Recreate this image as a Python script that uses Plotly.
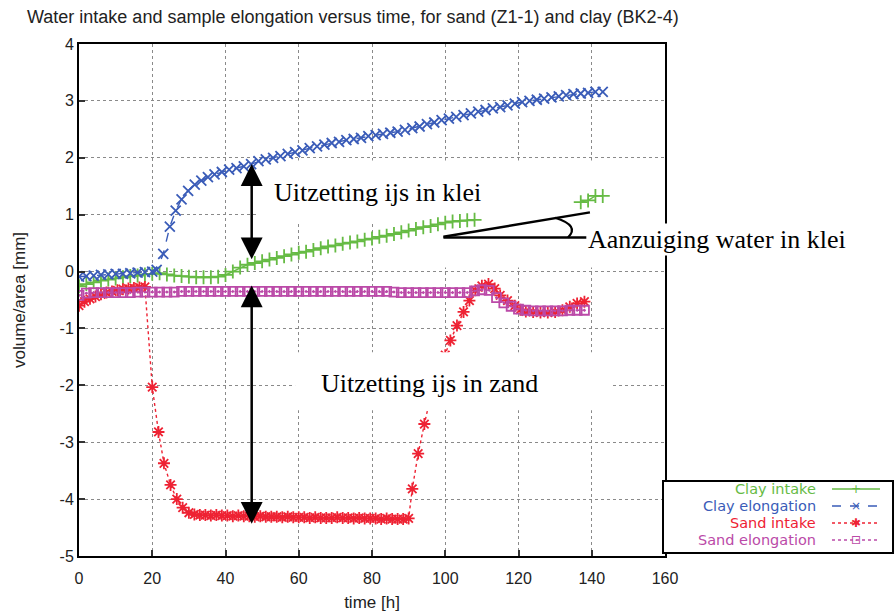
import plotly.graph_objects as go

# ---------------- data ----------------
clay_intake_t = [0, 2, 4, 6, 8, 10, 12, 14, 16, 18,
                 20, 22, 24, 26, 28, 30, 32, 34, 36, 38,
                 40, 42, 44, 46, 48, 50, 52, 54, 56, 58,
                 60, 62, 64, 66, 68, 70, 72, 74, 76, 78,
                 80, 82, 84, 86, 88, 90, 92, 94, 96, 98,
                 100, 102, 104, 106, 108, None, 137, 139, 141, 143]
clay_intake_v = [-0.26, -0.22, -0.19, -0.16, -0.14, -0.12, -0.10, -0.08, -0.07, -0.05,
                 -0.04, -0.03, -0.05, -0.07, -0.08, -0.09, -0.10, -0.10, -0.10, -0.09,
                 -0.06, 0.00, 0.07, 0.12, 0.15, 0.18, 0.21, 0.24, 0.27, 0.30,
                 0.33, 0.35, 0.38, 0.41, 0.44, 0.46, 0.49, 0.51, 0.53, 0.56,
                 0.58, 0.61, 0.63, 0.66, 0.69, 0.72, 0.75, 0.78, 0.80, 0.83,
                 0.86, 0.88, 0.89, 0.90, 0.91, None, 1.22, 1.25, 1.33, 1.33]

clay_elong_t = [0, 2, 4, 6, 8, 10, 12, 14, 16, 18, 20,
                21.2, 23, 24.8, 26.4, 28, 29.8, 31.6, 33.4, 35.2, 37,
                39, 41, 43, 45, 47,
                49, 51, 53, 55, 57, 59, 61, 63, 65, 67,
                69, 71, 73, 75, 77, 79, 81, 83, 85, 87,
                89, 91, 93, 95, 97, 99, 101, 103, 105, 107,
                109, 111, 113, 115, 117, 119, 121, 123, 125, 127,
                129, 131, 133, 135, 137, 139, 141, 143]
clay_elong_v = [-0.09, -0.08, -0.07, -0.06, -0.05, -0.04, -0.04, -0.03, -0.02, -0.01, 0.00,
                0.03, 0.31, 0.79, 1.07, 1.27, 1.42, 1.53, 1.60, 1.66, 1.71,
                1.75, 1.79, 1.82, 1.85, 1.89,
                1.94, 1.97, 2.00, 2.03, 2.07, 2.10, 2.13, 2.17, 2.20, 2.23,
                2.26, 2.28, 2.31, 2.33, 2.35, 2.38, 2.40, 2.42, 2.44, 2.46,
                2.49, 2.52, 2.55, 2.59, 2.62, 2.66, 2.69, 2.72, 2.75, 2.78,
                2.81, 2.84, 2.87, 2.89, 2.92, 2.95, 2.98, 3.00, 3.02, 3.04,
                3.06, 3.08, 3.10, 3.12, 3.13, 3.14, 3.16, 3.16]

sand_intake_t = [0, 1.5, 3, 4.5, 6, 7.5, 9, 10.5, 12, 13.5, 15, 16.5, 18,
                 20, 21.7, 23.2, 25, 26.7, 28.3, 30,
                 31.5, 33, 34.5, 36, 37.5, 39, 40.5, 42, 43.5, 45,
                 46.5, 48, 49.5, 51, 52.5, 54, 55.5, 57, 58.5, 60,
                 61.5, 63, 64.5, 66, 67.5, 69, 70.5, 72, 73.5, 75,
                 76.5, 78, 79.5, 81, 82.5, 84, 85.5, 87, 88.5, 90,
                 91, 92.6, 94.3, 96, 98, 100,
                 101.4, 103.2, 105, 106.6, 108.2, 110, 111.8, 113.5, 115, 117, 119, 120.5,
                 122, 124, 126, 128, 130, 132, 134, 136, 138]
sand_intake_v = [-0.60, -0.53, -0.48, -0.44, -0.40, -0.37, -0.35, -0.33, -0.31, -0.30, -0.29, -0.28, -0.27,
                 -2.03, -2.82, -3.37, -3.75, -4.00, -4.15, -4.24,
                 -4.27, -4.28, -4.28, -4.29, -4.28, -4.29, -4.29, -4.30, -4.29, -4.30,
                 -4.30, -4.31, -4.30, -4.31, -4.31, -4.31, -4.32, -4.31, -4.32, -4.32,
                 -4.32, -4.33, -4.32, -4.33, -4.33, -4.33, -4.32, -4.33, -4.33, -4.34,
                 -4.33, -4.34, -4.34, -4.34, -4.35, -4.34, -4.35, -4.35, -4.35, -4.34,
                 -3.82, -3.20, -2.68, -2.20, -1.80, -1.47,
                 -1.21, -0.95, -0.71, -0.51, -0.33, -0.25, -0.22, -0.30, -0.42, -0.51, -0.60, -0.67,
                 -0.70, -0.71, -0.72, -0.72, -0.71, -0.68, -0.62, -0.56, -0.53]

sand_elong_t = [0, 2, 4, 6, 8, 10, 12, 14, 16, 18,
                20, 22, 24, 26, 28, 30, 32, 34, 36, 38,
                40, 42, 44, 46, 48, 50, 52, 54, 56, 58,
                60, 62, 64, 66, 68, 70, 72, 74, 76, 78,
                80, 82, 84, 86, 88, 90, 92, 94, 96, 98,
                100, 102, 104, 106, 108, 110, 112, 114, 116, 118,
                120, 122, 124, 126, 128, 130, 132, 134, 136, 138]
sand_elong_v = [-0.42, -0.38, -0.37, -0.37, -0.37, -0.37, -0.37, -0.37, -0.36, -0.36,
                -0.36, -0.36, -0.36, -0.36, -0.35, -0.35, -0.35, -0.35, -0.35, -0.35,
                -0.35, -0.35, -0.35, -0.35, -0.35, -0.35, -0.35, -0.35, -0.35, -0.35,
                -0.35, -0.35, -0.35, -0.35, -0.35, -0.35, -0.35, -0.35, -0.35, -0.35,
                -0.35, -0.35, -0.35, -0.36, -0.37, -0.37, -0.37, -0.37, -0.37, -0.37,
                -0.37, -0.37, -0.37, -0.37, -0.34, -0.32, -0.33, -0.46, -0.55, -0.61,
                -0.66, -0.68, -0.69, -0.69, -0.69, -0.69, -0.69, -0.68, -0.68, -0.68]

x_ticks = [0, 20, 40, 60, 80, 100, 120, 140, 160]
y_ticks = [-5, -4, -3, -2, -1, 0, 1, 2, 3, 4]

title_text = "Water intake and sample elongation versus time, for sand (Z1-1) and clay (BK2-4)"
series_names = ["Clay intake", "Clay elongation", "Sand intake", "Sand elongation"]
series_colors = ["#66bb44", "#3a5cb8", "#ee2233", "#bb4aa8"]
series_dash = ["solid", "dash", "3px,3px", "dot"]
series_symbol = ["cross-thin-open", "x-thin-open", "asterisk-open", "square-open-dot"]
series_symbol_size = [10, 10, 10, 9]
legend_glyphs = ["+", "\u00d7", "\u2731", "\u22a1"]

# ---------------- figure ----------------
SANS = "Liberation Sans, Arial, sans-serif"
SERIF = "Liberation Serif, Times New Roman, serif"

fig = go.Figure()

series_t = [clay_intake_t, clay_elong_t, sand_intake_t, sand_elong_t]
series_v = [clay_intake_v, clay_elong_v, sand_intake_v, sand_elong_v]
for t, v, name, col, dash, sym, sz in zip(series_t, series_v, series_names, series_colors,
                                          series_dash, series_symbol, series_symbol_size):
    fig.add_trace(go.Scatter(
        x=t, y=v, mode="lines+markers", connectgaps=False, name=name, showlegend=False,
        line=dict(color=col, width=1.4, dash=dash),
        marker=dict(symbol=sym, size=sz, color=col, line=dict(color=col, width=1.8)),
    ))

shapes = []
# white patches behind the labels (hide gridlines as in the reference)
for b, layer in [(dict(x0=49, x1=160, y0=0.88, y1=1.95), "between"),
                 (dict(x0=98.6, x1=160, y0=0.07, y1=0.88), "between"),
                 (dict(x0=59, x1=145, y0=-2.44, y1=-1.42), "above")]:
    shapes.append(dict(type="rect", xref="x", yref="y", layer=layer,
                       fillcolor="white", line=dict(width=0), **b))

# the two lines and the angle arc of "Aanzuiging water in klei"
shapes += [
    dict(type="line", xref="x", yref="y", x0=99.5, y0=0.61, x1=139.5, y1=1.04,
         line=dict(color="black", width=2.5), layer="above"),
    dict(type="line", xref="x", yref="y", x0=99.5, y0=0.60, x1=138.6, y1=0.60,
         line=dict(color="black", width=2.5), layer="above"),
    dict(type="path", xref="x", yref="y", path="M 130.0,0.947 Q 136.85,0.807 133.5,0.60",
         line=dict(color="black", width=2.2), layer="above"),
]

annotations = [
    dict(x=47.15, y=1.89, ax=47.15, ay=0.19, xref="x", yref="y", axref="x", ayref="y",
         text="", showarrow=True, arrowside="end+start", arrowhead=2, startarrowhead=2,
         arrowsize=1.75, startarrowsize=1.75, arrowwidth=2.5, arrowcolor="black",
         standoff=0, startstandoff=0),
    dict(x=47.15, y=-0.245, ax=47.15, ay=-4.46, xref="x", yref="y", axref="x", ayref="y",
         text="", showarrow=True, arrowside="end+start", arrowhead=2, startarrowhead=2,
         arrowsize=1.75, startarrowsize=1.75, arrowwidth=2.5, arrowcolor="black",
         standoff=0, startstandoff=0),
    dict(x=81.5, y=1.39, xref="x", yref="y", text="Uitzetting ijs in klei", showarrow=False,
         font=dict(family=SERIF, size=26, color="black"), xanchor="center", yanchor="middle"),
    dict(x=95.6, y=-1.965, xref="x", yref="y", text="Uitzetting ijs in zand", showarrow=False,
         font=dict(family=SERIF, size=26, color="black"), xanchor="center", yanchor="middle"),
    dict(x=1.0879, y=0.619, xref="paper", yref="paper", text="Aanzuiging water in klei",
         showarrow=False, bgcolor="white",
         font=dict(family=SERIF, size=26, color="black"), xanchor="center", yanchor="middle"),
]

# ---- legend box drawn like the gnuplot key (text right-aligned, sample on the right) ----
shapes.append(dict(type="rect", xref="paper", yref="paper", x0=0.9966, x1=1.3891,
                   y0=0.0059, y1=0.1465, fillcolor="white",
                   line=dict(color="black", width=2), layer="above"))
legend_rows_y = [0.1309, 0.0977, 0.0645, 0.0313]
for ry, name, col, dash, glyph in zip(legend_rows_y, series_names, series_colors,
                                      series_dash, legend_glyphs):
    annotations.append(dict(x=1.2594, y=ry, xref="paper", yref="paper", text=name,
                            showarrow=False, xanchor="right", yanchor="middle", borderpad=0,
                            font=dict(family="DejaVu Sans", size=14.5, color=col)))
    shapes.append(dict(type="line", xref="paper", yref="paper", x0=1.285, x1=1.3669,
                       y0=ry, y1=ry, line=dict(color=col, width=1.4, dash=dash), layer="above"))
    annotations.append(dict(x=1.3259, y=ry, xref="paper", yref="paper", text=glyph,
                            showarrow=False, xanchor="center", yanchor="middle", borderpad=0,
                            font=dict(family="DejaVu Sans", size=12, color=col)))

axis_common = dict(
    showline=True, linecolor="black", linewidth=2, mirror=True,
    showgrid=True, gridcolor="#8a8a8a", griddash="dot", gridwidth=1,
    ticks="inside", ticklen=6, tickwidth=1.5, tickcolor="#333",
    zeroline=False, automargin=False,
    tickfont=dict(family=SANS, size=16, color="#222"),
)

fig.update_layout(
    width=896, height=613,
    margin=dict(l=79, r=231, t=44, b=57),
    paper_bgcolor="white", plot_bgcolor="white",
    title=dict(text=title_text, x=27 / 896, xanchor="left", xref="container",
               y=1 - 17 / 613, yanchor="middle", automargin=False,
               font=dict(family=SANS, size=18, color="#222")),
    xaxis=dict(range=[0, 160], tickvals=x_ticks, ticktext=[str(t) for t in x_ticks],
               ticklabelstandoff=7,
               title=dict(text="time [h]", font=dict(family=SANS, size=17, color="#222"), standoff=10),
               **axis_common),
    yaxis=dict(range=[-5, 4], tickvals=y_ticks, ticktext=[str(t) for t in y_ticks],
               title=dict(text="volume/area [mm]", font=dict(family=SANS, size=17, color="#222"), standoff=30),
               **axis_common),
    showlegend=False,
    shapes=shapes,
    annotations=annotations,
)

fig.write_html("out.html")
